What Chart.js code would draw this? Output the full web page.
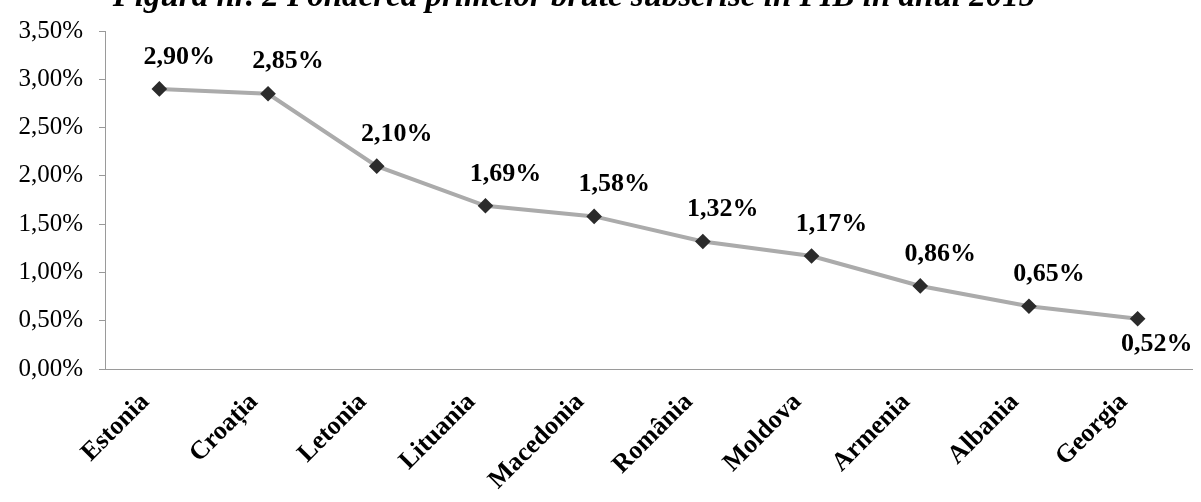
<!DOCTYPE html>
<html>
<head>
<meta charset="utf-8">
<script src="https://cdn.jsdelivr.net/npm/chart.js@4.4.1/dist/chart.umd.min.js"></script>
<style>
  html, body { margin: 0; padding: 0; background: #fff; }
  #wrap { width: 1201px; height: 502px; position: relative; overflow: hidden; }
</style>
</head>
<body>
<div id="wrap"><canvas id="c" width="1201" height="502"></canvas></div>
<script>
const titleText = "Figura nr. 2 Ponderea primelor brute subscrise în PIB în anul 2015";
const categories = ["Estonia", "Croația", "Letonia", "Lituania", "Macedonia", "România", "Moldova", "Armenia", "Albania", "Georgia"];
const values = [2.90, 2.85, 2.10, 1.69, 1.58, 1.32, 1.17, 0.86, 0.65, 0.52];
const yTicks = [0, 0.5, 1.0, 1.5, 2.0, 2.5, 3.0, 3.5];

const fmt = v => v.toFixed(2).replace('.', ',') + '%';
const SERIF = "'Liberation Serif', 'Times New Roman', serif";

const titlePlugin = {
  id: 'clippedTitle',
  afterDraw(chart) {
    const ctx = chart.ctx;
    ctx.save();
    ctx.font = "italic bold 33px " + SERIF;
    ctx.fillStyle = '#000';
    ctx.textAlign = 'center';
    ctx.textBaseline = 'alphabetic';
    ctx.fillText(titleText, 574, 6);
    ctx.restore();
  }
};

const labelPlugin = {
  id: 'valueLabels',
  afterDatasetsDraw(chart) {
    const ctx = chart.ctx;
    const meta = chart.getDatasetMeta(0);
    ctx.save();
    ctx.font = "bold 26px " + SERIF;
    ctx.fillStyle = '#000';
    ctx.textAlign = 'center';
    ctx.textBaseline = 'middle';
    meta.data.forEach((pt, i) => {
      const last = i === meta.data.length - 1;
      const dx = last ? 19 : 20;
      const dy = last ? 25 : -32;
      ctx.fillText(fmt(values[i]), pt.x + dx, pt.y + dy);
    });
    ctx.restore();
  }
};

new Chart(document.getElementById('c'), {
  type: 'line',
  data: {
    labels: categories,
    datasets: [{
      data: values,
      borderColor: '#ababab',
      borderWidth: 4,
      pointStyle: 'rectRot',
      pointRadius: 5,
      pointBackgroundColor: '#2b2b2b',
      pointBorderColor: '#2b2b2b',
      tension: 0,
      fill: false
    }]
  },
  options: {
    responsive: false,
    devicePixelRatio: 1,
    animation: false,
    layout: { padding: { top: 18, right: 4, bottom: 0, left: 4 } },
    plugins: { legend: { display: false }, tooltip: { enabled: false }, title: { display: false } },
    scales: {
      x: {
        offset: true,
        afterFit(axis) { axis.height = 133; },
        grid: { display: false, drawTicks: false },
        border: { color: '#9a9a9a', width: 1 },
        ticks: {
          color: '#000',
          font: { family: SERIF, size: 26, weight: 'bold' },
          minRotation: 45, maxRotation: 45,
          padding: 18,
          labelOffset: -14
        }
      },
      y: {
        min: 0, max: 3.5,
        afterBuildTicks(axis) { axis.ticks = yTicks.map(v => ({ value: v })); },
        afterFit(axis) { axis.width = 101; },
        grid: { drawOnChartArea: false, drawTicks: true, tickLength: 6, color: '#999' },
        border: { color: '#9a9a9a', width: 1, dash: [6, 2] },
        ticks: {
          color: '#000',
          font: { family: SERIF, size: 25 },
          padding: 16,
          callback: v => fmt(v)
        }
      }
    }
  },
  plugins: [titlePlugin, labelPlugin]
});
</script>
</body>
</html>
